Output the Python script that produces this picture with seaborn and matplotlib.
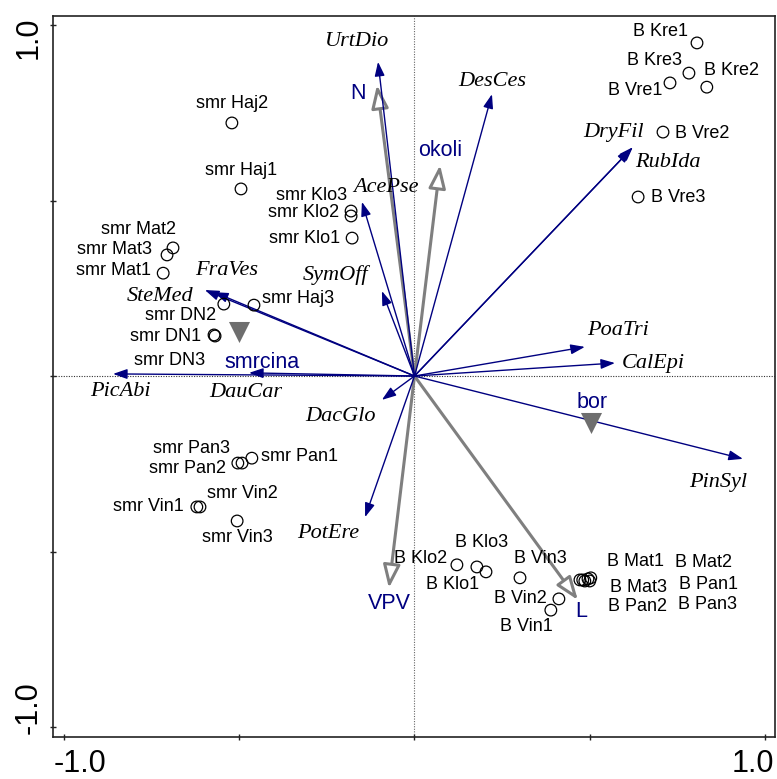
import numpy as np
import pandas as pd
import matplotlib
matplotlib.use("Agg")
import matplotlib.pyplot as plt
from matplotlib.patches import ArrowStyle
import seaborn as sns

# ---------------------------------------------------------------------------
# Ordination scores (axis 1, axis 2)
# ---------------------------------------------------------------------------
sample_names = [
    "B Kre1", "B Kre3", "B Kre2", "B Vre1", "B Vre2", "B Vre3",
    "smr Haj2", "smr Haj1", "smr Klo3", "smr Klo2", "smr Klo1",
    "smr Mat2", "smr Mat3", "smr Mat1", "smr DN2", "smr DN1", "smr DN3",
    "smr Haj3", "smr Pan3", "smr Pan2", "smr Pan1",
    "smr Vin1", "smr Vin2", "smr Vin3",
    "B Klo2", "B Klo3", "B Klo1", "B Vin3", "B Vin2", "B Vin1",
    "B Mat1", "B Mat2", "B Mat3", "B Pan1", "B Pan2", "B Pan3",
]
sample_x = [
    0.806, 0.783, 0.834, 0.729, 0.709, 0.638,
    -0.521, -0.495, -0.181, -0.181, -0.178,
    -0.689, -0.706, -0.717, -0.544, -0.572, -0.569,
    -0.458, -0.504, -0.492, -0.464,
    -0.621, -0.612, -0.506,
    0.121, 0.178, 0.204, 0.301, 0.412, 0.389,
    0.472, 0.503, 0.480, 0.495, 0.486, 0.500,
]
sample_y = [
    0.949, 0.863, 0.823, 0.835, 0.695, 0.510,
    0.721, 0.533, 0.470, 0.456, 0.393,
    0.365, 0.345, 0.293, 0.205, 0.117, 0.114,
    0.202, -0.248, -0.248, -0.234,
    -0.373, -0.373, -0.413,
    -0.538, -0.544, -0.558, -0.575, -0.635, -0.667,
    -0.581, -0.575, -0.581, -0.578, -0.584, -0.584,
]

species_names = [
    "UrtDio", "DesCes", "DryFil", "RubIda", "AcePse", "SymOff", "FraVes",
    "SteMed", "PicAbi", "DauCar", "DacGlo", "PotEre", "PoaTri", "CalEpi",
    "PinSyl",
]
species_x = [
    -0.104, 0.221, 0.623, 0.618, -0.150, -0.093, -0.572,
    -0.598, -0.860, -0.472, -0.093, -0.141, 0.486, 0.572,
    0.937,
]
species_y = [
    0.895, 0.803, 0.652, 0.647, 0.496, 0.242, 0.239,
    0.245, 0.006, 0.009, -0.068, -0.402, 0.083, 0.037,
    -0.236,
]

env_names = ["N", "okoli", "VPV", "L"]
env_x = [-0.107, 0.073, -0.073, 0.466]
env_y = [0.829, 0.601, -0.604, -0.638]

nominal_names = ["smrcina", "bor"]
nominal_x = [-0.501, 0.504]
nominal_y = [0.125, -0.134]

tick_values = [-1.0, -0.5, 0.0, 0.5, 1.0]
tick_labels = ["-1.0", "1.0"]

# ---------------------------------------------------------------------------
# Label placement (offsets in pixels from the mark: right, down)
# ---------------------------------------------------------------------------
sample_label_offsets = {
    "B Kre1": (-36, -11), "B Kre3": (-34, -13), "B Kre2": (25, -17),
    "B Vre1": (-35, 8), "B Vre2": (39, 1), "B Vre3": (40, 0),
    "smr Haj2": (0, -19), "smr Haj1": (0, -18), "smr Klo3": (-39, -16),
    "smr Klo2": (-47, -3), "smr Klo1": (-48, 0), "smr Mat2": (-35, -18),
    "smr Mat3": (-53, -5), "smr Mat1": (-50, -3), "smr DN2": (-43, 11),
    "smr DN1": (-48, 2), "smr DN3": (-45, 24), "smr Haj3": (44, -7),
    "smr Pan3": (-46, -15), "smr Pan2": (-55, 5), "smr Pan1": (48, -2),
    "smr Vin1": (-48, 0), "smr Vin2": (42, -13), "smr Vin3": (0, 17),
    "B Klo2": (-36, -6), "B Klo3": (5, -24), "B Klo1": (-33, 13),
    "B Vin3": (20, -19), "B Vin2": (-39, 0), "B Vin1": (-24, 16),
    "B Mat1": (56, -18), "B Mat2": (113, -15), "B Mat3": (56, 8),
    "B Pan1": (121, 6), "B Pan2": (53, 26), "B Pan3": (118, 24),
}
species_label_offsets = {
    "UrtDio": (-21, -20), "DesCes": (0, -13), "DryFil": (-19, -15),
    "RubIda": (37, 14), "AcePse": (24, -14), "SymOff": (-46, -16),
    "FraVes": (13, -22), "SteMed": (-45, 6), "PicAbi": (7, 18),
    "DauCar": (-3, 20), "DacGlo": (-41, 17), "PotEre": (-37, 16),
    "PoaTri": (33, -16), "CalEpi": (38, 0), "PinSyl": (-25, 24),
}
env_label_offsets = {"N": (-19, 8), "okoli": (0, -15), "VPV": (0, 15), "L": (3, 12)}
nominal_label_offsets = {"smrcina": (23, 30), "bor": (1, -21)}

NAVY = "#000080"
GREY = "#7f7f7f"
SANS = "Liberation Sans"
SERIF = "Liberation Serif"

sns.set_theme(style="white")
plt.rcParams["font.family"] = [SANS, "DejaVu Sans"]

fig = plt.figure(figsize=(7.77, 7.79), dpi=100)
ax = fig.add_axes([0.0682, 0.0539, 0.9292, 0.9255])
ax.set_xlim(-1.0314, 1.0285)
ax.set_ylim(-1.0285, 1.0256)

# dotted zero lines
ax.axhline(0, color="#333333", lw=0.8, ls=(0, (1, 1.3)), zorder=1)
ax.axvline(0, color="#666666", lw=0.8, ls=(0, (1, 1.3)), zorder=1)

# environmental variables: grey arrows with open heads
env_style = ArrowStyle("-|>", head_length=14, head_width=5.2)
for name, x, y in zip(env_names, env_x, env_y):
    ax.annotate("", xy=(x, y), xytext=(0, 0),
                arrowprops=dict(arrowstyle=env_style, mutation_scale=1,
                                shrinkA=0, shrinkB=0, lw=2.2,
                                edgecolor=GREY, facecolor="white"),
                zorder=2)
    dx, dy = env_label_offsets[name]
    ax.annotate(name, xy=(x, y), xytext=(dx, -dy), textcoords="offset pixels",
                ha="center", va="center", color=NAVY, fontsize=15.5,
                family=SANS, zorder=6)

# species: navy arrows
sp_style = ArrowStyle("-|>", head_length=8.5, head_width=3.0)
for name, x, y in zip(species_names, species_x, species_y):
    ax.annotate("", xy=(x, y), xytext=(0, 0),
                arrowprops=dict(arrowstyle=sp_style, mutation_scale=1,
                                shrinkA=0, shrinkB=0, lw=1.0, color=NAVY),
                zorder=3)
    dx, dy = species_label_offsets[name]
    ax.annotate(name, xy=(x, y), xytext=(dx, -dy), textcoords="offset pixels",
                ha="center", va="center", color="black", fontsize=16,
                family=SERIF, style="italic", zorder=6)

# samples: open circles
samples = pd.DataFrame({"name": sample_names, "x": sample_x, "y": sample_y})
sns.scatterplot(data=samples, x="x", y="y", marker="o", s=70, color="black",
                linewidth=0.9, legend=False, ax=ax, zorder=4)
circles = ax.collections[-1]
circles.set_facecolor("none")
circles.set_edgecolor("black")
for name, x, y in zip(sample_names, sample_x, sample_y):
    dx, dy = sample_label_offsets[name]
    ax.annotate(name, xy=(x, y), xytext=(dx, -dy), textcoords="offset pixels",
                ha="center", va="center", color="black", fontsize=13,
                family=SANS, zorder=6)

# nominal variables: grey centroids
nominal = pd.DataFrame({"name": nominal_names, "x": nominal_x, "y": nominal_y})
sns.scatterplot(data=nominal, x="x", y="y", marker="v", s=230, color="#6e6e6e",
                linewidth=0, legend=False, ax=ax, zorder=5)
for name, x, y in zip(nominal_names, nominal_x, nominal_y):
    dx, dy = nominal_label_offsets[name]
    ax.annotate(name, xy=(x, y), xytext=(dx, -dy), textcoords="offset pixels",
                ha="center", va="center", color=NAVY, fontsize=15.5,
                family=SANS, zorder=6)

# frame and ticks
ax.set_xlabel("")
ax.set_ylabel("")
ax.set_xticks(tick_values)
ax.set_yticks(tick_values)
ax.set_xticklabels([])
ax.set_yticklabels([])
ax.tick_params(axis="both", which="major", direction="inout", length=4.5,
               width=1.0, color="#222222", bottom=True, left=True,
               top=False, right=False)
for spine in ax.spines.values():
    spine.set_color("#222222")
    spine.set_linewidth(1.2)

# end-of-axis labels
ax.text(0.0374, -0.0485, tick_labels[0], transform=ax.transAxes,
        ha="center", va="baseline", fontsize=22, family=SANS, color="black")
ax.text(0.9695, -0.0485, tick_labels[1], transform=ax.transAxes,
        ha="center", va="baseline", fontsize=22, family=SANS, color="black")
ax.text(-0.0222, 0.0402, tick_labels[0], transform=ax.transAxes, rotation=90,
        rotation_mode="anchor", ha="center", va="baseline", fontsize=22,
        family=SANS, color="black")
ax.text(-0.0222, 0.970, tick_labels[1], transform=ax.transAxes, rotation=90,
        rotation_mode="anchor", ha="center", va="baseline", fontsize=22,
        family=SANS, color="black")

fig.savefig("out.png", dpi=100)
